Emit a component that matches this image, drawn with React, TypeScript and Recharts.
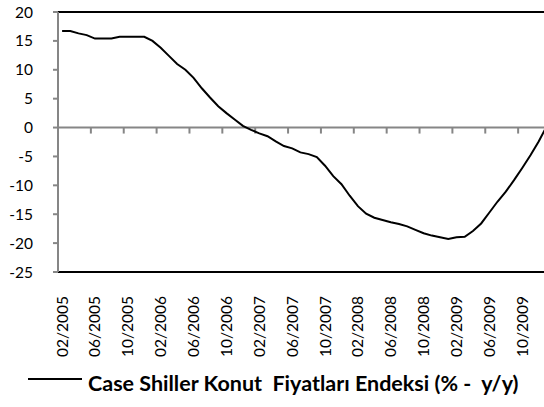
import React from 'react';
import { ComposedChart, Line, XAxis, YAxis, ReferenceLine, Legend } from 'recharts';

const months: string[] = [
  '02/2005', '03/2005', '04/2005', '05/2005', '06/2005', '07/2005', '08/2005', '09/2005', '10/2005', '11/2005', '12/2005',
  '01/2006', '02/2006', '03/2006', '04/2006', '05/2006', '06/2006', '07/2006', '08/2006', '09/2006', '10/2006', '11/2006', '12/2006',
  '01/2007', '02/2007', '03/2007', '04/2007', '05/2007', '06/2007', '07/2007', '08/2007', '09/2007', '10/2007', '11/2007', '12/2007',
  '01/2008', '02/2008', '03/2008', '04/2008', '05/2008', '06/2008', '07/2008', '08/2008', '09/2008', '10/2008', '11/2008', '12/2008',
  '01/2009', '02/2009', '03/2009', '04/2009', '05/2009', '06/2009', '07/2009', '08/2009', '09/2009', '10/2009', '11/2009', '12/2009',
  '01/2010',
];

const values: number[] = [
  16.7, 16.7, 16.3, 16.0, 15.4, 15.4, 15.4, 15.7, 15.7, 15.7, 15.7,
  15.0, 13.8, 12.4, 11.0, 10.0, 8.6, 6.8, 5.2, 3.7, 2.5, 1.4, 0.3,
  -0.4, -1.0, -1.5, -2.4, -3.2, -3.6, -4.3, -4.6, -5.1, -6.6, -8.4, -9.8,
  -11.8, -13.6, -14.9, -15.6, -16.0, -16.4, -16.7, -17.1, -17.7, -18.3, -18.7, -19.0,
  -19.3, -19.0, -18.9, -17.9, -16.6, -14.7, -12.8, -11.1, -9.1, -7.0, -4.8, -2.4,
  0.3,
];

const yTicks: number[] = [-25, -20, -15, -10, -5, 0, 5, 10, 15, 20];
const seriesName = 'Case Shiller Konut  Fiyatları Endeksi (% -  y/y)';

const data = months.map((m, i) => ({ month: m, value: values[i] }));

const FONT = 'Lato, "Open Sans", sans-serif';
const AXIS_GRAY = '#868686';

const MonthTick = (props: any) => {
  const { x, y, payload } = props;
  return (
    <g transform={`translate(${x + 5.5},${y})`}>
      <text
        x={0}
        y={0}
        transform="rotate(-90)"
        textAnchor="end"
        fontFamily={FONT}
        fontSize={15.5}
        fill="#000"
      >
        {payload.value}
      </text>
    </g>
  );
};

const ZeroAxis = (props: any) => {
  const { x1, y1, x2 } = props;
  const n = months.length;
  const step = (x2 - x1) / n;
  const marks: number[] = [];
  for (let k = 4; k < n; k += 4) marks.push(x1 + k * step);
  return (
    <g>
      <line x1={x1} x2={x2} y1={y1} y2={y1} stroke={AXIS_GRAY} strokeWidth={2} />
      {marks.map((mx) => (
        <line key={mx} x1={mx} x2={mx} y1={y1} y2={y1 + 6} stroke={AXIS_GRAY} strokeWidth={2} />
      ))}
    </g>
  );
};

const LegendContent = () => (
  <svg width={544} height={42} style={{ display: 'block' }}>
    <line x1={28} x2={82} y1={15} y2={15} stroke="#000" strokeWidth={2} />
    <text
      x={88}
      y={27}
      fontFamily={FONT}
      fontWeight={700}
      fontSize={21.5}
      fill="#000"
      style={{ whiteSpace: 'pre' }}
    >
      {seriesName}
    </text>
  </svg>
);

export default function App() {
  return (
    <div
      style={{
        position: 'absolute',
        left: 0,
        top: 0,
        width: 544,
        height: 407,
        overflow: 'hidden',
        background: '#fff',
      }}
    >
      <ComposedChart width={551} height={407} data={data} margin={{ top: 12, right: 0, bottom: 0, left: 0 }}>
        <XAxis
          dataKey="month"
          scale="band"
          interval={3}
          height={135}
          axisLine={{ stroke: '#000', strokeWidth: 2 }}
          tickLine={false}
          tickSize={6}
          tickMargin={18}
          tick={<MonthTick />}
        />
        <YAxis
          type="number"
          domain={[-25, 20]}
          ticks={yTicks}
          interval={0}
          width={58}
          axisLine={{ stroke: AXIS_GRAY, strokeWidth: 2 }}
          tickLine={{ stroke: AXIS_GRAY, strokeWidth: 2 }}
          tickSize={5}
          tickMargin={20}
          tick={{ fill: '#000', fontSize: 15.5, fontFamily: FONT }}
        />
        <ReferenceLine y={20} stroke="#000" strokeWidth={2} />
        <ReferenceLine y={0} shape={ZeroAxis} />
        <Line
          dataKey="value"
          name={seriesName}
          type="linear"
          stroke="#000"
          strokeWidth={2}
          dot={false}
          activeDot={false}
          isAnimationActive={false}
        />
        <Legend
          verticalAlign="middle"
          align="center"
          layout="horizontal"
          wrapperStyle={{ top: 364, left: 0, width: 544 }}
          content={LegendContent}
        />
      </ComposedChart>
    </div>
  );
}
